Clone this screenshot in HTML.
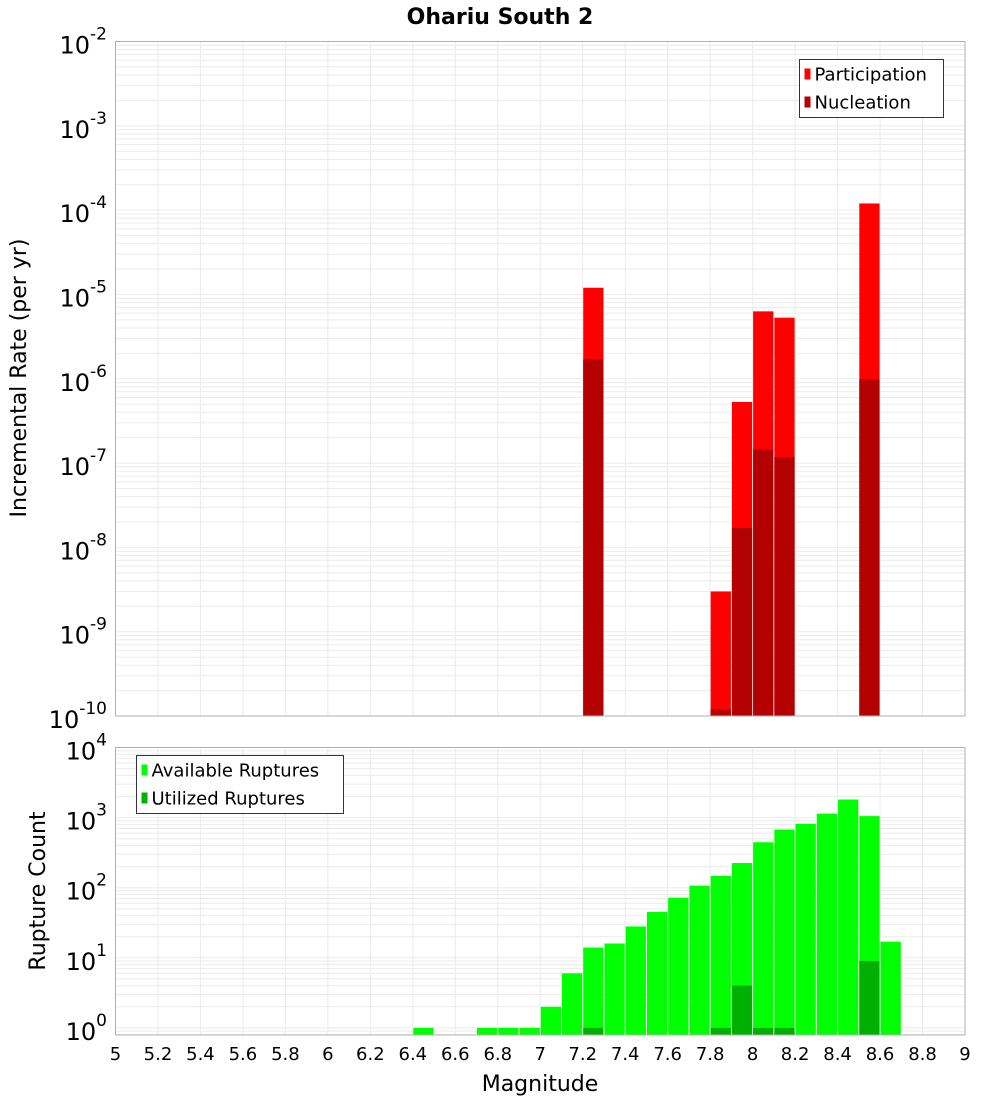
<!DOCTYPE html>
<html><head><meta charset="utf-8"><style>
body{margin:0;background:#fff;font-family:"DejaVu Sans","Liberation Sans",sans-serif}
svg text{font-family:"DejaVu Sans","Liberation Sans",sans-serif}
</style></head><body>
<svg id="c" width="1000" height="1100" xmlns="http://www.w3.org/2000/svg">
<text x="500" y="24" text-anchor="middle" font-size="22" font-weight="bold">Ohariu South 2</text>
<text transform="translate(26,378) rotate(-90)" text-anchor="middle" font-size="22">Incremental Rate (per yr)</text>
<text transform="translate(45,891) rotate(-90)" text-anchor="middle" font-size="22">Rupture Count</text>
<text x="540" y="1091" text-anchor="middle" font-size="22">Magnitude</text>
</svg>
<script>
const binCenters=[7.25,7.85,7.95,8.05,8.15,8.55];
const participation=[1.2e-5,3e-9,5.3e-7,6.3e-6,5.3e-6,1.2e-4];
const nucleation=[1.7e-6,1.2e-10,1.7e-8,1.45e-7,1.18e-7,9.8e-7];
const countCenters=[6.45,6.75,6.85,6.95,7.05,7.15,7.25,7.35,7.45,7.55,7.65,7.75,7.85,7.95,8.05,8.15,8.25,8.35,8.45,8.55,8.65];
const available=[1,1,1,1,2,6,14,16,28,45,72,107,147,225,445,675,815,1140,1810,1050,17];
const utilCenters=[7.25,7.85,7.95,8.05,8.15,8.55];
const utilized=[1,1,4,1,1,9];
const xTicks=["5","5.2","5.4","5.6","5.8","6","6.2","6.4","6.6","6.8","7","7.2","7.4","7.6","7.8","8","8.2","8.4","8.6","8.8","9"];

const svg=document.getElementById('c');
const NS='http://www.w3.org/2000/svg';
function mk(t,a,p){const e=document.createElementNS(NS,t);for(const k in a)e.setAttribute(k,a[k]);(p||svg).appendChild(e);return e;}
const X0=115.5,X1=965;
const xs=m=>X0+(m-5)*(X1-X0)/4;
const T0=41.5,T1=716;
const yTop=v=>T0+(-2-Math.log10(v))*(T1-T0)/8;
const B0=747.5,B1=1035,dec=70.1;
const yBot=v=>B0+(4-Math.log10(v))*dec;

function grid(y0,y1,ymap,emin,emax){
  for(let e=emin;e<emax;e++)for(let k=1;k<10;k++){const y=ymap(k*Math.pow(10,e));if(y>=y0&&y<=y1){const l=mk('line',{x1:X0,x2:X1,y1:y,y2:y,stroke:'#ebebeb','stroke-width':1});

}}
  for(let i=0;i<xTicks.length;i++){const x=xs(parseFloat(xTicks[i]));const l=mk('line',{x1:x,x2:x,y1:y0,y2:y1,stroke:'#ebebeb','stroke-width':1});

}
}
grid(T0,T1,yTop,-10,-2);
grid(B0,B1,yBot,-1,4);

function bar(c,v,ymap,yb,fill,name){const x=xs(c-0.05)+0.5,w=xs(c+0.05)-xs(c-0.05)-1;const y=Math.max(ymap(v),0);const r=mk('rect',{x:x,y:y,width:w,height:yb-y,fill:fill});

}
binCenters.forEach((c,i)=>bar(c,participation[i],yTop,T1,'#ff0000','participation-bar'));
binCenters.forEach((c,i)=>bar(c,nucleation[i],yTop,T1,'#b30000','nucleation-bar'));
countCenters.forEach((c,i)=>bar(c,available[i],yBot,B1,'#00ff00','available-bar'));
utilCenters.forEach((c,i)=>bar(c,utilized[i],yBot,B1,'#00b000','utilized-bar'));

[[T0,T1,'top-plot-frame'],[B0,B1,'bottom-plot-frame']].forEach(f=>{const r=mk('rect',{x:X0,y:f[0],width:X1-X0,height:f[1]-f[0],fill:'none',stroke:'#b0b0b0','stroke-width':1});

});

function ylab(y,e,name){const t=mk('text',{x:107,y:y+12,'text-anchor':'end','font-size':24});


t.textContent='10';const s=mk('tspan',{dy:-14,'font-size':17},t);s.textContent=e;}
for(let e=-2;e>=-10;e--)ylab(yTop(Math.pow(10,e)),e,'top-y-tick-label');
for(let e=4;e>=0;e--)ylab(yBot(Math.pow(10,e)),e,'bottom-y-tick-label');
xTicks.forEach(s=>{const t=mk('text',{x:xs(parseFloat(s)),y:1060,'text-anchor':'middle','font-size':18});


t.textContent=s;});

function legend(x,y,w,items,name){const g=mk('g',{});


mk('rect',{x:x,y:y,width:w,height:58,fill:'#fff',stroke:'#333','stroke-width':1},g);
items.forEach((it,i)=>{mk('rect',{x:x+5,y:y+9+i*28,width:6,height:11,fill:it[1]},g);const t=mk('text',{x:x+15,y:y+21+i*28,'font-size':18},g);


t.textContent=it[0];});}
legend(799.5,59.5,144,[['Participation','#ff0000'],['Nucleation','#b30000']],'top-legend');
legend(136.5,755.5,207,[['Available Ruptures','#00ff00'],['Utilized Ruptures','#00b000']],'bottom-legend');
</script>
</body></html>
